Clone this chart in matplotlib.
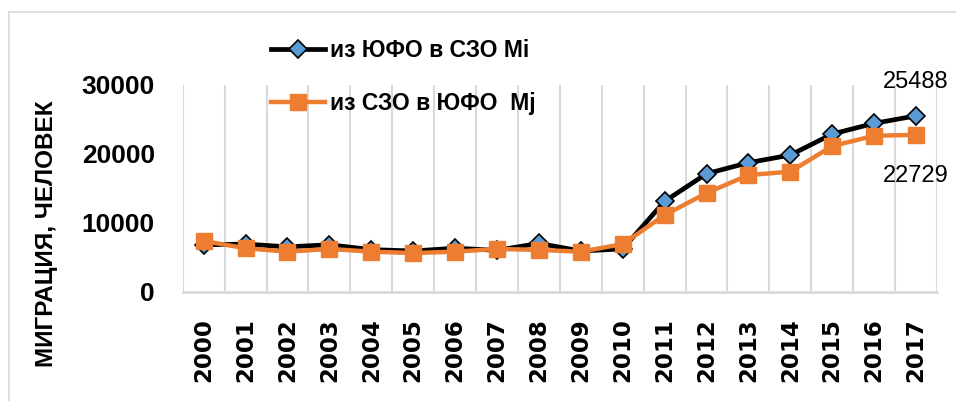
import matplotlib

matplotlib.use("Agg")
import matplotlib.pyplot as plt
import numpy as np
from matplotlib.lines import Line2D

YEARS = ["2000", "2001", "2002", "2003", "2004", "2005", "2006", "2007", "2008",
         "2009", "2010", "2011", "2012", "2013", "2014", "2015", "2016", "2017"]
# из ЮФО в СЗО (Mi)
MI = [6800, 6900, 6500, 6800, 6100, 5900, 6300, 6000, 7000,
      5900, 6200, 13100, 17100, 18700, 19800, 22850, 24400, 25488]
# из СЗО в ЮФО (Mj)
MJ = [7350, 6300, 5800, 6200, 5800, 5600, 5800, 6200, 6050,
      5800, 6900, 11100, 14300, 16900, 17400, 21100, 22600, 22729]

LABEL_MI = "из ЮФО в СЗО Mi"
LABEL_MJ = "из СЗО в ЮФО  Mj"
Y_LABEL = "МИГРАЦИЯ, ЧЕЛОВЕК"
Y_TICKS = [0, 10000, 20000, 30000]

BLACK = "#000000"
BLUE = "#5B9BD5"
ORANGE = "#ED7D31"
GRID = "#D9D9D9"

W, H = 956, 401
fig = plt.figure(figsize=(W / 100, H / 100), dpi=100)

# chart area border (only top and left visible in the crop)
fig.add_artist(Line2D([9 / W, 1.0], [1 - 12 / H, 1 - 12 / H], transform=fig.transFigure,
                      color=GRID, lw=1.2))
fig.add_artist(Line2D([9 / W, 9 / W], [0.0, 1 - 12 / H], transform=fig.transFigure,
                      color=GRID, lw=1.2))

left, right, bottom, top = 182.7, 937.0, 291.7, 84.7
ax = fig.add_axes([left / W, 1 - bottom / H, (right - left) / W, (bottom - top) / H])

x = np.arange(len(YEARS))
ax.plot(x, MI, color=BLACK, lw=3.4, marker="D", markersize=9,
        markerfacecolor=BLUE, markeredgecolor=BLACK, markeredgewidth=1.2,
        label=LABEL_MI, zorder=3)
ax.plot(x, MJ, color=ORANGE, lw=3.2, marker="s", markersize=11.5,
        markerfacecolor=ORANGE, markeredgecolor=ORANGE,
        label=LABEL_MJ, zorder=4)

ax.set_xlim(-0.5, len(YEARS) - 0.5)
ax.set_ylim(0, 30000)

ax.set_xticks(x)
ax.set_xticklabels(YEARS, rotation=90, fontfamily="DejaVu Sans", fontweight="bold",
                   fontsize=16.5, va="top")
ax.set_xticks(np.arange(-0.5, len(YEARS), 1), minor=True)
ax.grid(which="minor", axis="x", color=GRID, lw=1.5)
ax.tick_params(axis="x", which="both", length=0, pad=19)

ax.set_yticks(Y_TICKS)
ax.set_yticklabels([str(v) for v in Y_TICKS], fontfamily="Liberation Sans",
                   fontweight="bold", fontsize=19)
ax.tick_params(axis="y", length=0, pad=20)

for side in ["top", "right", "left"]:
    ax.spines[side].set_visible(False)
ax.spines["bottom"].set_color(GRID)
ax.spines["bottom"].set_linewidth(2)

ax.set_ylabel(Y_LABEL, fontfamily="Liberation Sans", fontweight="bold", fontsize=17.5)
ax.yaxis.set_label_coords((58 - left) / (right - left), (bottom - 234) / (bottom - top))

ax.annotate(str(MI[-1]), xy=(x[-1], MI[-1]), xytext=(0, 34), textcoords="offset pixels",
            ha="center", va="center", fontfamily="Liberation Sans", fontsize=17,
            annotation_clip=False)
ax.annotate(str(MJ[-1]), xy=(x[-1], MJ[-1]), xytext=(0, -41), textcoords="offset pixels",
            ha="center", va="center", fontfamily="Liberation Sans", fontsize=17,
            annotation_clip=False)

leg = fig.legend(loc="center left", bbox_to_anchor=(250 / W, 1 - 77 / H), frameon=False,
                 handlelength=2.36, handletextpad=0.22, labelspacing=1.35,
                 prop={"family": "Liberation Sans", "weight": "bold", "size": 16.5})

fig.savefig("out.png", dpi=100)
